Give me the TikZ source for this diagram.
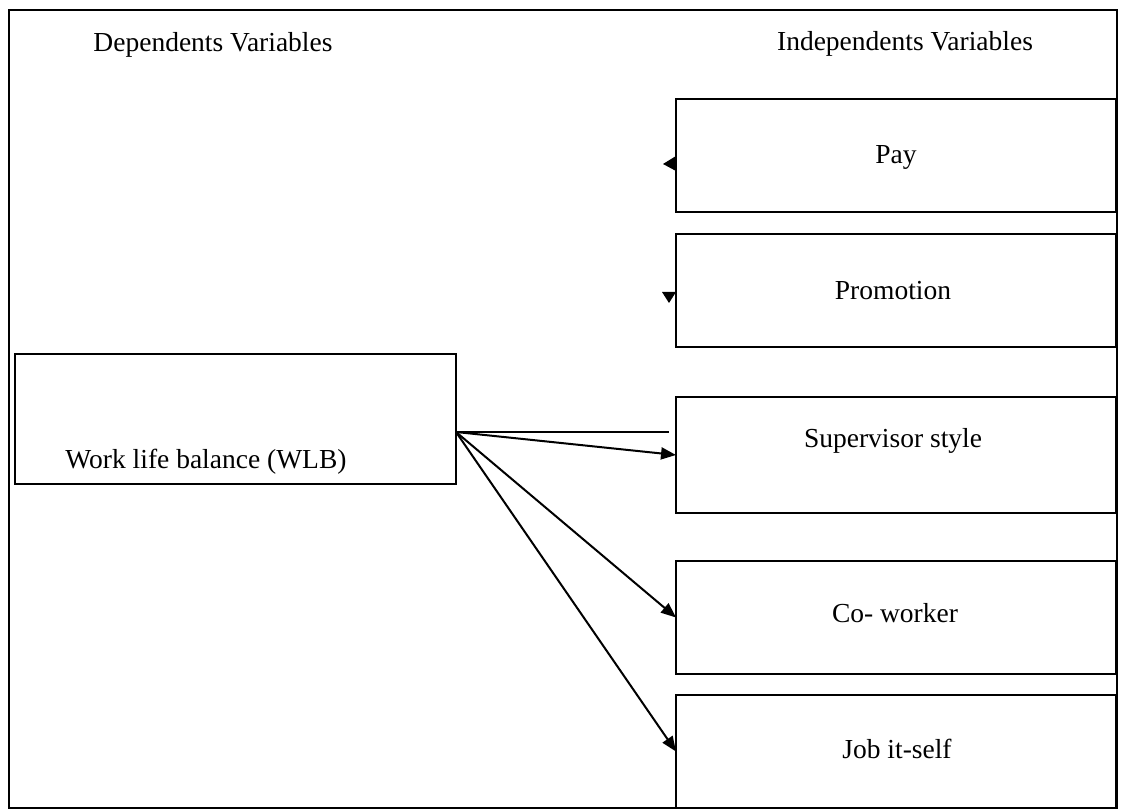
\documentclass[tikz,border=0pt]{standalone}
\usepackage{fontspec}
\setmainfont{Liberation Serif}
\usetikzlibrary{arrows.meta}
\begin{document}
\begin{tikzpicture}[x=1pt,y=-1pt,
  box/.style={draw,line width=2pt,inner sep=0pt,outer sep=0pt,anchor=north west},
  txt/.style={anchor=base,inner sep=0pt,font=\fontsize{27.5}{33}\selectfont},
  conn/.style={line width=2pt},
  arr/.style={conn,-{Triangle[length=15pt,width=12pt]}}]
\useasboundingbox (0,0) rectangle (1130,810);
\draw[line width=2.2pt] (9,10) rectangle (1117,808);
% boxes
\node[box,minimum width=441pt,minimum height=130pt] (wlb) at (15,354) {};
\node[box,minimum width=440pt,minimum height=113pt] (pay) at (676,99) {};
\node[box,minimum width=440pt,minimum height=113pt] (pro) at (676,234) {};
\node[box,minimum width=440pt,minimum height=116pt] (sup) at (676,397) {};
\node[box,minimum width=440pt,minimum height=113pt] (cow) at (676,561) {};
\node[box,minimum width=440pt,minimum height=113pt] (job) at (676,695) {};
% texts
\node[txt] (tdep) at (213,52) {Dependents Variables};
\node[txt] (tind) at (905,51) {Independents Variables};
\node[txt] (tpay) at (896,164) {Pay};
\node[txt] (tpro) at (893,300) {Promotion};
\node[txt] (tsup) at (893,447) {Supervisor style};
\node[txt] (tcow) at (895,622) {Co- worker};
\node[txt] (tjob) at (897,758) {Job it-self};
\node[txt] (twlb) at (206,468) {Work life balance (WLB)};
% stray arrowheads
\fill (663,164) -- (676,156) -- (676,171) -- cycle;
\fill (669,303) -- (662,292) -- (676,292) -- cycle;
% connectors
\coordinate (o) at (456,432);
\coordinate (h) at (669,432);
\draw[conn] (o) -- (h);
\draw[arr] (o) -- (sup.west);
\draw[arr] (o) -- (cow.west);
\draw[arr] (o) -- (job.west);
\end{tikzpicture}
\end{document}
